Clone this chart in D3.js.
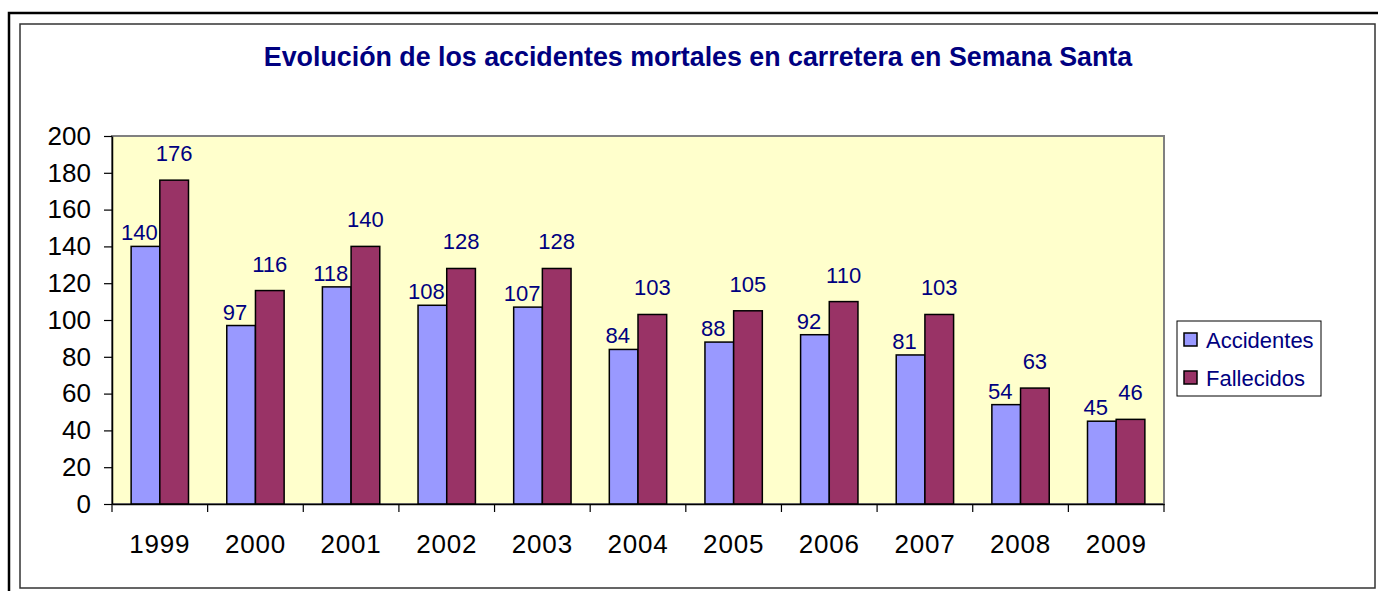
<!DOCTYPE html>
<html lang="es">
<head>
    <meta charset="UTF-8">
    <title>Evolución de los accidentes mortales</title>
    <script src="https://d3js.org/d3.v7.min.js"></script>
    <style>
        body { margin: 0; background: #fff; }
        text { font-family: Arial, "Liberation Sans", sans-serif; }
    </style>
</head>
<body>
    <svg width="1378" height="591" id="chart"></svg>

    <script>
        var years = ["1999", "2000", "2001", "2002", "2003", "2004", "2005", "2006", "2007", "2008", "2009"];
        var series = ["Accidentes", "Fallecidos"];
        var accidentes = [140, 97, 118, 108, 107, 84, 88, 92, 81, 54, 45];
        var fallecidos = [176, 116, 140, 128, 128, 103, 105, 110, 103, 63, 46];
        var yTicks = [0, 20, 40, 60, 80, 100, 120, 140, 160, 180, 200];

        var colors = ["#9999ff", "#993366"];

        var svg = d3.select("#chart");

        // frames
        svg.append("rect")
            .attr("x", 9).attr("y", 13)
            .attr("width", 1420).attr("height", 620)
            .attr("fill", "none").attr("stroke", "#000").attr("stroke-width", 2.5);

        svg.append("rect")
            .attr("x", 20).attr("y", 24)
            .attr("width", 1355).attr("height", 564)
            .attr("fill", "#fff").attr("stroke", "#333").attr("stroke-width", 1.5);

        svg.append("text")
            .attr("x", 698).attr("y", 66)
            .attr("text-anchor", "middle")
            .attr("font-size", 26.8)
            .attr("font-weight", "bold")
            .attr("fill", "#000080")
            .text("Evolución de los accidentes mortales en carretera en Semana Santa");

        var plotLeft = 112, plotRight = 1164, plotTop = 136, plotBottom = 504;

        var x = d3.scaleBand().domain(years).range([plotLeft, plotRight]).padding(0);
        var xs = d3.scaleBand().domain(series).range([0, x.bandwidth()]).paddingInner(0).paddingOuter(0.667);
        var y = d3.scaleLinear().domain([0, 200]).range([plotBottom, plotTop]);

        // plot area
        svg.append("rect")
            .attr("x", plotLeft).attr("y", plotTop)
            .attr("width", plotRight - plotLeft).attr("height", plotBottom - plotTop)
            .attr("fill", "#ffffcc").attr("stroke", "#808080").attr("stroke-width", 2);

        var rows = years.map((yr, i) => ({ year: yr, values: [accidentes[i], fallecidos[i]] }));

        var groups = svg.append("g")
            .selectAll("g")
            .data(rows)
            .join("g")
            .attr("transform", d => "translate(" + x(d.year) + ",0)");

        groups.selectAll("rect")
            .data(d => d.values.map((v, k) => ({ key: series[k], k: k, v: v })))
            .join("rect")
            .attr("x", d => xs(d.key))
            .attr("y", d => y(d.v))
            .attr("width", xs.bandwidth())
            .attr("height", d => y(0) - y(d.v))
            .attr("fill", d => colors[d.k])
            .attr("stroke", "#000")
            .attr("stroke-width", 1.5);

        // data labels
        groups.selectAll("text")
            .data(d => d.values.map((v, k) => ({ key: series[k], k: k, v: v })))
            .join("text")
            .attr("x", d => xs(d.key) + xs.bandwidth() / 2 - (d.k == 0 ? 6 : 0))
            .attr("y", d => y(d.v) - (d.k == 0 ? 6 : 19))
            .attr("text-anchor", "middle")
            .attr("font-size", 22)
            .attr("fill", "#000080")
            .text(d => d.v);

        // y axis
        var yAxis = svg.append("g")
            .attr("transform", "translate(" + plotLeft + ",0)")
            .call(d3.axisLeft(y).tickValues(yTicks).tickSize(8).tickPadding(13).tickSizeOuter(0));
        yAxis.select(".domain").attr("stroke", "#000").attr("stroke-width", 1.5);
        yAxis.selectAll(".tick line").attr("stroke", "#000").attr("stroke-width", 1.2);
        yAxis.selectAll("text")
            .attr("font-size", 26)
            .attr("font-family", "Arial, 'Liberation Sans', sans-serif")
            .attr("fill", "#000");

        // x axis
        var xAxis = svg.append("g")
            .attr("transform", "translate(0," + plotBottom + ")")
            .call(d3.axisBottom(x).tickSize(0).tickPadding(0).tickSizeOuter(0));
        xAxis.select(".domain").attr("stroke", "#000").attr("stroke-width", 1.5);
        xAxis.selectAll("text")
            .attr("dy", null)
            .attr("y", 49)
            .attr("font-size", 26)
            .attr("letter-spacing", 0.8)
            .attr("font-family", "Arial, 'Liberation Sans', sans-serif")
            .attr("fill", "#000");

        // category separators on the x axis
        svg.append("g")
            .selectAll("line")
            .data(years.concat([null]))
            .join("line")
            .attr("x1", (d, i) => plotLeft + i * x.step())
            .attr("x2", (d, i) => plotLeft + i * x.step())
            .attr("y1", plotBottom)
            .attr("y2", plotBottom + 8)
            .attr("stroke", "#000")
            .attr("stroke-width", 1.2);

        // legend
        var legend = svg.append("g");
        legend.append("rect")
            .attr("x", 1177).attr("y", 321)
            .attr("width", 144).attr("height", 75)
            .attr("fill", "#fff").attr("stroke", "#000").attr("stroke-width", 1);

        var items = legend.selectAll("g")
            .data(series)
            .join("g")
            .attr("transform", (d, i) => "translate(1184," + (333 + i * 38) + ")");

        items.append("rect")
            .attr("width", 13).attr("height", 13)
            .attr("fill", (d, i) => colors[i])
            .attr("stroke", "#000").attr("stroke-width", 1.5);

        items.append("text")
            .attr("x", 22).attr("y", 7)
            .attr("dy", "0.35em")
            .attr("font-size", 22)
            .attr("fill", "#000080")
            .text(d => d);
    </script>
</body>
</html>
